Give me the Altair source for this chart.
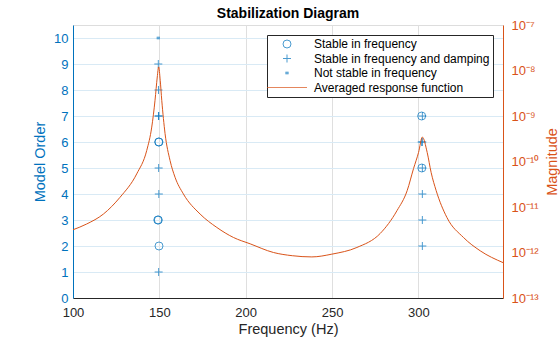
import altair as alt
import pandas as pd

BLUE = "#0072BD"
ORANGE = "#D95319"
DARK = "#262626"
FONT = "Liberation Sans"

categories = [
    "Stable in frequency",
    "Stable in frequency and damping",
    "Not stable in frequency",
    "Averaged response function",
]

# Stable in frequency (circles)
stable_freq_hz = [149.8, 149.1, 149.4, 149.6, 149.8, 302.0, 301.9]
stable_freq_order = [2, 3, 3, 6, 6, 5, 7]

# Stable in frequency and damping (plus)
stable_damp_hz = [149.6, 149.7, 149.6, 149.5, 149.7, 149.5, 149.4,
                  302.3, 302.3, 302.3, 302.3, 302.3, 301.9, 302.3]
stable_damp_order = [1, 4, 5, 7, 7, 8, 9,
                     2, 3, 4, 5, 6, 6, 7]

# Not stable in frequency (dot)
not_stable_hz = [149.4]
not_stable_order = [10]

# Averaged response function
frf_hz = [100.0, 107.9, 117.6, 127.2, 136.9, 142.7, 145.6, 147.5, 148.8,
          149.6, 150.5, 151.4, 153.3, 156.2, 159.1, 163.9, 173.6, 183.3,
          192.9, 202.6, 216.1, 227.0, 238.3, 249.9, 264.4, 277.9, 287.6,
          293.5, 297.2, 300.1, 302.3, 305.1, 307.4, 310.3, 316.5, 326.1,
          335.8, 349.0]
frf_mag = [3.16e-12, 4.23e-12, 7.0e-12, 1.63e-11, 5.35e-11, 1.75e-10, 5.7e-10,
           2.21e-9, 7.2e-9, 1.2e-8, 6.1e-9, 2.21e-9, 4.14e-10, 1.05e-10,
           4.5e-11, 1.94e-11, 7.0e-12, 3.55e-12, 2.14e-12, 1.55e-12, 1.0e-12,
           8.5e-13, 8.0e-13, 9.2e-13, 1.29e-12, 2.62e-12, 8.3e-12, 2.29e-11,
           7.0e-11, 1.58e-10, 3.44e-10, 1.58e-10, 5.7e-11, 2.29e-11, 5.9e-12,
           2.14e-12, 1.09e-12, 6.0e-13]

x_ticks = [100, 150, 200, 250, 300]
order_ticks = list(range(11))
mag_ticks = [1e-13, 1e-12, 1e-11, 1e-10, 1e-9, 1e-8, 1e-7]

rows = []
for f, o in zip(stable_freq_hz, stable_freq_order):
    rows.append({"freq": f, "order": o, "type": categories[0]})
for f, o in zip(stable_damp_hz, stable_damp_order):
    rows.append({"freq": f, "order": o, "type": categories[1]})
for f, o in zip(not_stable_hz, not_stable_order):
    rows.append({"freq": f, "order": o, "type": categories[2]})
points_df = pd.DataFrame(rows)
frf_df = pd.DataFrame({"freq": frf_hz, "mag": frf_mag})

shape_range = [
    "circle",
    "M-1,0H1M0,-1V1",
    "M-0.4,-0.2H0.4M-0.4,0H0.4M-0.4,0.2H0.4",
    "M-5,0H5",
]
color_range = [BLUE, BLUE, BLUE, ORANGE]

legend = alt.Legend(
    title=None,
    orient="top-right",
    offset=10,
    padding=3,
    strokeColor=DARK,
    fillColor="white",
    symbolSize=64,
    symbolStrokeWidth=1,
    symbolOffset=11,
    labelOffset=21,
    labelFont=FONT,
    labelFontSize=12,
    labelColor="black",
    labelLimit=400,
    rowPadding=2.5,
)

x_enc = alt.X(
    "freq:Q",
    scale=alt.Scale(domain=[100, 349], nice=False, zero=False),
    axis=alt.Axis(
        values=x_ticks,
        title="Frequency (Hz)",
        grid=True,
        gridColor="#DFDFDF",
        ticks=False,
        labelFlush=False,
        labelPadding=8,
        labelFont=FONT,
        labelFontSize=13,
        labelColor=DARK,
        titleFont=FONT,
        titleFontSize=14.5,
        titleFontWeight="normal",
        titleColor=DARK,
        titlePadding=3,
        domainColor=DARK,
    ),
)

points = alt.Chart(points_df).mark_point(filled=False, size=64, strokeWidth=1).encode(
    x=x_enc,
    y=alt.Y(
        "order:Q",
        scale=alt.Scale(domain=[0, 10.5], nice=False, zero=False),
        axis=alt.Axis(
            orient="left",
            values=order_ticks,
            title="Model Order",
            grid=True,
            gridColor="#D9EAF5",
            ticks=False,
            labelFlush=False,
            labelPadding=5,
            labelFont=FONT,
            labelFontSize=13,
            labelColor=BLUE,
            titleFont=FONT,
            titleFontSize=14.5,
            titleFontWeight="normal",
            titleColor=BLUE,
            titlePadding=6,
            domainColor=BLUE,
        ),
    ),
    shape=alt.Shape("type:N", scale=alt.Scale(domain=categories, range=shape_range), legend=legend),
    color=alt.Color("type:N", scale=alt.Scale(domain=categories, range=color_range), legend=legend),
)

label_expr = (
    "datum.value < 3e-13 ? '10⁻¹³' : datum.value < 3e-12 ? '10⁻¹²' : "
    "datum.value < 3e-11 ? '10⁻¹¹' : datum.value < 3e-10 ? '10⁻¹⁰' : "
    "datum.value < 3e-9 ? '10⁻⁹' : datum.value < 3e-8 ? '10⁻⁸' : '10⁻⁷'"
)

line = alt.Chart(frf_df).mark_line(color=ORANGE, strokeWidth=1, interpolate="monotone").encode(
    x=x_enc,
    y=alt.Y(
        "mag:Q",
        scale=alt.Scale(type="log", domain=[1e-13, 1e-7], nice=False),
        axis=alt.Axis(
            orient="right",
            values=mag_ticks,
            labelExpr=label_expr,
            title="Magnitude",
            titleAngle=270,
            titleBaseline="top",
            grid=False,
            ticks=False,
            labelFlush=False,
            labelPadding=8,
            labelFont=FONT,
            labelFontSize=13,
            labelColor=ORANGE,
            titleFont=FONT,
            titleFontSize=14.5,
            titleFontWeight="normal",
            titleColor=ORANGE,
            titlePadding=7,
            domainColor=ORANGE,
        ),
    ),
)

chart = (
    alt.layer(points, line)
    .resolve_scale(y="independent")
    .properties(
        width=430,
        height=273,
        title=alt.TitleParams(
            "Stabilization Diagram",
            font=FONT,
            fontSize=14,
            fontWeight="bold",
            color="black",
            anchor="middle",
            frame="group",
            offset=5,
            dy=7,
        ),
        padding={"left": 73, "top": 25, "right": 57, "bottom": 39},
        autosize=alt.AutoSizeParams(type="none"),
    )
    .configure_view(stroke=DARK, strokeWidth=1)
    .configure(background="white")
)

chart.save("out.html", embed_options={"renderer": "svg", "actions": False})
